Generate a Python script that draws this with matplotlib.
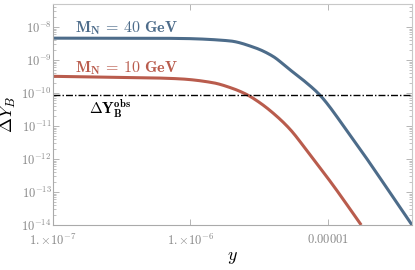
import matplotlib
matplotlib.use("Agg")
import matplotlib.pyplot as plt
import numpy as np
from matplotlib.ticker import LogLocator, FixedLocator, FixedFormatter, NullFormatter

plt.rcParams['mathtext.fontset'] = 'cm'
plt.rcParams['font.family'] = ['DejaVu Serif']

# Data
y40 = [1e-7, 5e-7, 8.36e-7, 1.92e-6, 2.92e-6, 3.94e-6, 5.25e-6, 6.97e-6, 8.67e-6, 1.36e-5, 4.1e-5]
dY40 = [4.62e-9, 4.6e-9, 4.53e-9, 3.83e-9, 2.41e-9, 1.34e-9, 5.26e-10, 2.07e-10, 9.1e-11, 7.8e-12, 1e-14]

y10 = [1e-7, 5.06e-7, 8.36e-7, 1.45e-6, 2.02e-6, 2.56e-6, 3.18e-6, 3.95e-6, 5.25e-6, 7.59e-6, 1.06e-5, 1.75e-5]
dY10 = [3.22e-10, 2.9e-10, 2.7e-10, 2.07e-10, 1.39e-10, 9.1e-11, 5.19e-11, 2.58e-11, 8.4e-12, 1.18e-12, 1.9e-13, 1e-14]

dY_obs = 8.7e-11

xticks = [1e-7, 1e-6, 1e-5]
xticklabels = [r'$1.{\times}10^{-7}$', r'$1.{\times}10^{-6}$', r'$0.00001$']
yticks = [1e-14, 1e-13, 1e-12, 1e-11, 1e-10, 1e-9, 1e-8]
yticklabels = [r'$10^{-14}$', r'$10^{-13}$', r'$10^{-12}$', r'$10^{-11}$', r'$10^{-10}$', r'$10^{-9}$', r'$10^{-8}$']

blue = '#4d6c8a'
red = '#b95c4d'

fig = plt.figure(figsize=(4.15, 2.7), dpi=100)
ax = fig.add_axes([0.1277, 0.1667, 0.8651, 0.8183])

def smooth(xs, ys, n=400):
    lx = np.log10(xs); ly = np.log10(ys)
    t = np.linspace(lx[0], lx[-1], n)
    h = np.diff(lx); d = np.diff(ly) / h
    m = np.zeros(len(lx))
    m[0] = d[0]; m[-1] = d[-1]
    for i in range(1, len(lx) - 1):
        if d[i-1] * d[i] <= 0:
            m[i] = 0
        else:
            w1 = 2*h[i] + h[i-1]; w2 = h[i] + 2*h[i-1]
            m[i] = (w1 + w2) / (w1/d[i-1] + w2/d[i])
    out = np.empty_like(t)
    for j, tt in enumerate(t):
        i = min(np.searchsorted(lx, tt, side='right') - 1, len(lx) - 2)
        i = max(i, 0)
        s = (tt - lx[i]) / h[i]
        h00 = 2*s**3 - 3*s**2 + 1; h10 = s**3 - 2*s**2 + s
        h01 = -2*s**3 + 3*s**2; h11 = s**3 - s**2
        out[j] = h00*ly[i] + h10*h[i]*m[i] + h01*ly[i+1] + h11*h[i]*m[i+1]
    return 10**t, 10**out

sx, sy = smooth(y40, dY40)
ax.plot(sx, sy, color=blue, lw=2.2, solid_capstyle='butt')
sx, sy = smooth(y10, dY10)
ax.plot(sx, sy, color=red, lw=2.2, solid_capstyle='butt')
ax.axhline(dY_obs, color='black', lw=1.0, ls=(0, (5, 1.5, 1, 1.5)))

ax.set_xscale('log'); ax.set_yscale('log')
ax.set_xlim(1e-7, 4.1e-5)
ax.set_ylim(1e-14, 5e-8)

ax.xaxis.set_major_locator(FixedLocator(xticks))
ax.xaxis.set_major_formatter(FixedFormatter(xticklabels))
ax.xaxis.set_minor_locator(FixedLocator([]))
ax.yaxis.set_major_locator(FixedLocator(yticks))
ax.yaxis.set_major_formatter(FixedFormatter(yticklabels))
ax.yaxis.set_minor_locator(LogLocator(base=10, subs=np.arange(2, 10), numticks=30))
ax.yaxis.set_minor_formatter(NullFormatter())

for s in ax.spines.values():
    s.set_color('#c8c8c8'); s.set_linewidth(0.8)
ax.spines['left'].set_color('#aaaaaa')
ax.spines['bottom'].set_color('#aaaaaa')
ax.tick_params(which='both', direction='in', top=True, right=True, colors='#aaaaaa',
               labelcolor='#888888', labelsize=9)
ax.tick_params(which='major', length=4, width=0.6)
ax.tick_params(which='minor', length=2, width=0.5)
ax.tick_params(axis='x', pad=6)
ax.tick_params(axis='y', pad=1)

ax.text(0.06, 0.89, r'$\mathbf{M_N\,=\,40\ GeV}$', transform=ax.transAxes,
        color=blue, fontsize=11.5, va='center', ha='left')
ax.text(0.06, 0.71, r'$\mathbf{M_N\,=\,10\ GeV}$', transform=ax.transAxes,
        color=red, fontsize=11.5, va='center', ha='left')
ax.text(0.10, 0.525, r'$\mathbf{\Delta Y_B^{obs}}$', transform=ax.transAxes,
        color='black', fontsize=11, va='center', ha='left')

ax.set_ylabel(r'$\Delta Y_B$', fontsize=13, labelpad=2)
ax.set_xlabel(r'$y$', fontsize=13, labelpad=0)

fig.savefig('out.png', dpi=100)
